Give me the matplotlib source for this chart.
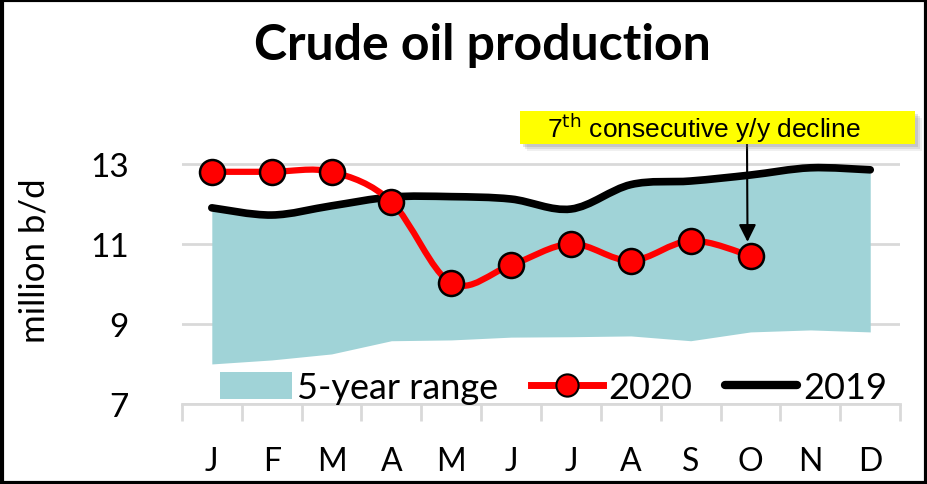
import matplotlib.pyplot as plt
import numpy as np
from matplotlib.path import Path
from matplotlib.patches import PathPatch, Patch, Rectangle
from matplotlib.lines import Line2D

months = ['J', 'F', 'M', 'A', 'M', 'J', 'J', 'A', 'S', 'O', 'N', 'D']
prod_2020 = [12.8, 12.8, 12.8, 12.05, 10.02, 10.47, 11.0, 10.58, 11.08, 10.7]
prod_2019 = [11.9, 11.72, 11.95, 12.17, 12.18, 12.12, 11.87, 12.48, 12.57, 12.72, 12.9, 12.85]
range_low = [8.0, 8.1, 8.25, 8.58, 8.6, 8.67, 8.68, 8.7, 8.58, 8.8, 8.85, 8.8]
range_high = prod_2019


def smooth_path(xs, ys):
    # excel style smoothed line: bezier through the points (catmull-rom)
    pts = np.column_stack([xs, ys]).astype(float)
    n = len(pts)
    verts = [pts[0]]
    codes = [Path.MOVETO]
    for i in range(n - 1):
        p0 = pts[max(i - 1, 0)]
        p1 = pts[i]
        p2 = pts[i + 1]
        p3 = pts[min(i + 2, n - 1)]
        c1 = p1 + (p2 - p0) / 6.0
        c2 = p2 - (p3 - p1) / 6.0
        verts += [c1, c2, p2]
        codes += [Path.CURVE4] * 3
    return Path(verts, codes)


fig = plt.figure(figsize=(9.28, 4.85), dpi=100)
ax = fig.add_axes([0.196, 0.165, 0.774, 0.619])

x = np.arange(len(months))
x20 = np.arange(len(prod_2020))

ax.fill_between(x, range_low, range_high, color='#a0d3d7', lw=0, zorder=1)

ax.add_patch(PathPatch(smooth_path(x, prod_2019), fill=False, ec='black', lw=5.5,
                       capstyle='round', zorder=3))
ax.add_patch(PathPatch(smooth_path(x20, prod_2020), fill=False, ec='#ff0000', lw=4.5,
                       capstyle='round', zorder=4))
ax.plot(x20, prod_2020, 'o', ms=18, mfc='#ff0000', mec='black', mew=1.8, zorder=5)

ax.set_xlim(-0.5, 11.5)
ax.set_ylim(7, 14.5)
ax.set_yticks([7, 9, 11, 13])
ax.set_xticks(x)
ax.set_xticklabels(months)
ax.set_xticks(np.arange(-0.5, 12, 1), minor=True)
ax.tick_params(axis='x', which='major', length=0, pad=30, labelsize=23)
ax.tick_params(axis='x', which='minor', length=12, width=2, color='#d9d9d9')
ax.tick_params(axis='y', length=0, pad=38, labelsize=24)
for lab in ax.get_xticklabels() + ax.get_yticklabels():
    lab.set_fontfamily('Lato')

ax.grid(axis='y', color='#d9d9d9', lw=2)
ax.set_axisbelow(True)
for s in ['top', 'right', 'left']:
    ax.spines[s].set_visible(False)
ax.spines['bottom'].set_color('#d9d9d9')
ax.spines['bottom'].set_linewidth(2)

ax.set_ylabel('million b/d', fontsize=25, family='Lato')
ax.yaxis.set_label_coords(-0.183, 0.48)

fig.text(0.52, 0.907, 'Crude oil production', ha='center', va='center',
         fontsize=36, fontweight='bold', family='Lato')

# yellow note box with a soft shadow
bx, by, bw, bh = 0.5603, 0.701, 0.4256, 0.068
for k, a in [(7, 0.10), (5, 0.15), (3, 0.2)]:
    fig.patches.append(Rectangle((bx + k / 928, by - k / 485), bw, bh, transform=fig.transFigure,
                                 fc='#707070', ec='none', alpha=a, zorder=5))
fig.patches.append(Rectangle((bx, by), bw, bh, transform=fig.transFigure,
                             fc='#ffff00', ec='none', zorder=6))
fig.text(0.7586, 0.736, '7$^{\\mathrm{th}}$ consecutive y/y decline', ha='center', va='center',
         fontsize=19, family='Liberation Sans', zorder=7)

ax.annotate('', xy=(8.95, 11.05), xytext=(747 / 928, by), textcoords='figure fraction',
            arrowprops=dict(arrowstyle='-|>', color='black', lw=1.5,
                            mutation_scale=26, shrinkA=0, shrinkB=0), zorder=6)

handles = [Patch(fc='#a0d3d7', ec='none'),
           Line2D([], [], color='#ff0000', lw=5, marker='o', ms=16,
                  mfc='#ff0000', mec='black', mew=1.5),
           Line2D([], [], color='black', lw=6, solid_capstyle='round')]
leg = ax.legend(handles, ['5-year range', '2020', '2019'], ncol=3, loc='center',
                bbox_to_anchor=(0.517, 0.055), frameon=False, handlelength=2.0,
                columnspacing=0.9, handletextpad=0.15, handleheight=0.75,
                prop={'family': 'Lato', 'size': 26})

# frame around the whole picture
fig.patches.append(Rectangle((0.002, 0.003), 0.996, 0.994, transform=fig.transFigure,
                             fill=False, ec='black', lw=3))

fig.savefig('out.png', dpi=100)
